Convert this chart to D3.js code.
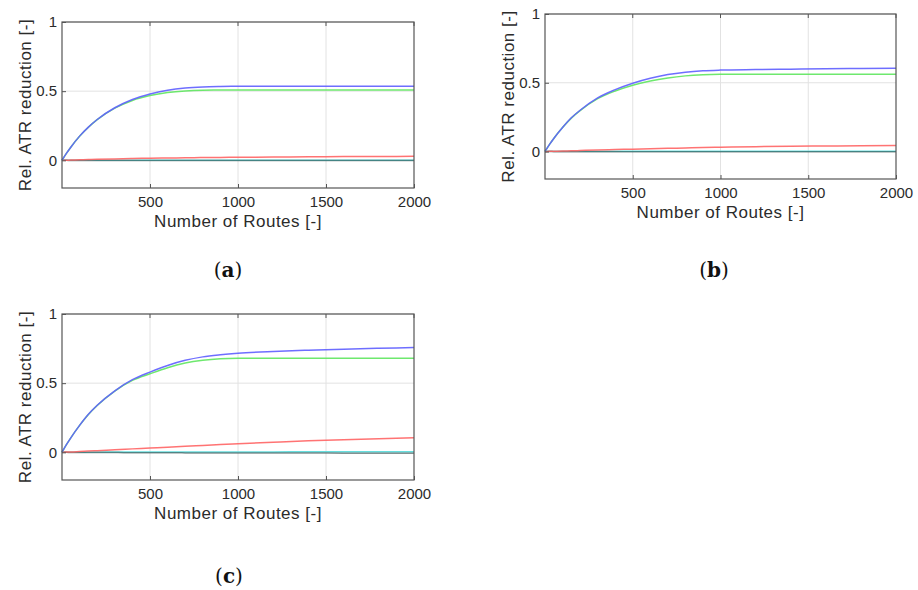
<!DOCTYPE html>
<html>
<head>
<meta charset="utf-8">
<script src="https://cdn.jsdelivr.net/npm/d3@7"></script>
<style>
  body { margin: 0; background: #fff; }
  svg { display: block; }
</style>
</head>
<body>
<svg id="chart" width="918" height="590"></svg>
<script>
// number of routes, shared by every series
var routes = [0, 25, 50, 100, 150, 200, 300, 400, 500, 600, 700, 800, 900, 1000, 1200, 1400, 1600, 1800, 2000];

// panel (a)
var blueA  = [0, 0.05, 0.095, 0.175, 0.24, 0.295, 0.38, 0.44, 0.48, 0.507, 0.523, 0.531, 0.534, 0.535, 0.535, 0.535, 0.536, 0.536, 0.536];
var greenA = [0, 0.05, 0.095, 0.174, 0.239, 0.294, 0.377, 0.433, 0.468, 0.49, 0.502, 0.507, 0.508, 0.508, 0.508, 0.508, 0.508, 0.508, 0.508];
var redA   = [0, 0.001, 0.002, 0.004, 0.006, 0.007, 0.01, 0.013, 0.015, 0.017, 0.018, 0.02, 0.021, 0.022, 0.024, 0.026, 0.027, 0.028, 0.029];
var cyanA  = [0, 0.001, 0.001, 0.001, 0.001, 0.001, 0.001, 0.001, 0.001, 0.001, 0.001, 0.001, 0.001, 0.001, 0.001, 0.001, 0.001, 0.001, 0.001];
var blackA = [0, 0, -0.001, -0.001, -0.001, -0.001, -0.001, -0.001, -0.001, -0.001, -0.001, -0.001, -0.001, -0.001, -0.001, -0.001, -0.001, -0.001, -0.001];

// panel (b)
var blueB  = [0, 0.05, 0.095, 0.175, 0.245, 0.3, 0.39, 0.45, 0.497, 0.533, 0.56, 0.577, 0.587, 0.592, 0.596, 0.599, 0.602, 0.604, 0.606];
var greenB = [0, 0.05, 0.095, 0.174, 0.243, 0.297, 0.384, 0.44, 0.482, 0.513, 0.535, 0.55, 0.558, 0.561, 0.562, 0.562, 0.562, 0.562, 0.562];
var redB   = [0, 0.001, 0.002, 0.004, 0.005, 0.007, 0.011, 0.014, 0.017, 0.02, 0.023, 0.026, 0.029, 0.031, 0.035, 0.038, 0.04, 0.042, 0.043];
var cyanB  = [0, 0.001, 0.001, 0.001, 0.001, 0.001, 0.001, 0.001, 0.001, 0.001, 0.001, 0.001, 0.001, 0.001, 0.001, 0.001, 0.001, 0.001, 0.001];
var blackB = [0, 0, -0.001, -0.001, -0.001, -0.001, -0.001, -0.002, -0.002, -0.002, -0.002, -0.002, -0.002, -0.002, -0.002, -0.002, -0.002, -0.002, -0.002];

// panel (c)
var blueC  = [0, 0.055, 0.105, 0.195, 0.275, 0.34, 0.445, 0.525, 0.58, 0.628, 0.665, 0.69, 0.705, 0.716, 0.729, 0.738, 0.746, 0.752, 0.758];
var greenC = [0, 0.055, 0.105, 0.195, 0.274, 0.339, 0.443, 0.52, 0.568, 0.612, 0.645, 0.665, 0.676, 0.68, 0.681, 0.681, 0.681, 0.681, 0.681];
var redC   = [0, 0.002, 0.003, 0.006, 0.009, 0.012, 0.019, 0.025, 0.031, 0.037, 0.044, 0.05, 0.056, 0.062, 0.073, 0.083, 0.091, 0.098, 0.105];
var cyanC  = [0, 0.001, 0.001, 0.001, 0.002, 0.002, 0.002, 0.002, 0.002, 0.003, 0.003, 0.003, 0.003, 0.003, 0.003, 0.004, 0.004, 0.004, 0.004];
var blackC = [0, 0, -0.001, -0.001, -0.002, -0.002, -0.002, -0.003, -0.003, -0.003, -0.004, -0.004, -0.004, -0.005, -0.005, -0.005, -0.006, -0.006, -0.006];

var xTicks = [500, 1000, 1500, 2000];
var yTicks = [0, 0.5, 1];
var yTickLabels = ["0", "0.5", "1"];
var panelLetters = ["a", "b", "c"];

// drawing order: cyan, black, red, green, blue
var seriesColors = ["#55dcdc", "#2e4a4a", "#ff6464", "#5ee65e", "#5e5eff"];
var seriesAlpha  = [0.9, 0.6, 0.9, 0.9, 0.9];

var panels = [
	{ letter: panelLetters[0], box: [62, 22, 414, 188],  cap: [228, 277], series: [cyanA, blackA, redA, greenA, blueA] },
	{ letter: panelLetters[1], box: [545, 14, 896, 179], cap: [714, 277], series: [cyanB, blackB, redB, greenB, blueB] },
	{ letter: panelLetters[2], box: [62, 314, 414, 480], cap: [229, 583], series: [cyanC, blackC, redC, greenC, blueC] }
];

var svg = d3.select("#chart");
var sansFont = "Liberation Sans, Arial, Helvetica, sans-serif";

function drawPanel(p) {

	var x = d3.scaleLinear().domain([0, 2000]).range([p.box[0], p.box[2]]),
		y = d3.scaleLinear().domain([-0.2, 1]).range([p.box[3], p.box[1]]);

	var g = svg.append("g");

	// grid
	g.selectAll(".vgrid").data(xTicks.slice(0, 3)).enter().append("line")
		.attr("x1", function(d){ return x(d); }).attr("x2", function(d){ return x(d); })
		.attr("y1", y(1)).attr("y2", y(-0.2))
		.attr("stroke", "#e2e2e2").attr("stroke-width", 1);
	g.selectAll(".hgrid").data(yTicks).enter().append("line")
		.attr("x1", x(0)).attr("x2", x(2000))
		.attr("y1", function(d){ return y(d); }).attr("y2", function(d){ return y(d); })
		.attr("stroke", "#e2e2e2").attr("stroke-width", 1);

	// curves
	var line = d3.line()
		.x(function(d, i){ return x(routes[i]); })
		.y(function(d){ return y(d); })
		.curve(d3.curveMonotoneX);

	p.series.forEach(function(vals, k){
		g.append("path")
			.attr("d", line(vals))
			.attr("fill", "none")
			.attr("stroke", seriesColors[k])
			.attr("stroke-opacity", seriesAlpha[k])
			.attr("stroke-width", 1.5);
	});

	// axes, MATLAB style ticks pointing inward
	var xAxis = d3.axisBottom(x).tickValues(xTicks).tickSizeInner(-4).tickSizeOuter(0).tickPadding(8)
		.tickFormat(d3.format("d"));
	var yAxis = d3.axisLeft(y).tickValues(yTicks).tickSizeInner(-4).tickSizeOuter(0).tickPadding(5)
		.tickFormat(function(d, i){ return yTickLabels[i]; });

	var gx = g.append("g").attr("transform", "translate(0," + y(-0.2) + ")").call(xAxis);
	var gy = g.append("g").attr("transform", "translate(" + x(0) + ",0)").call(yAxis);

	[gx, gy].forEach(function(a){
		a.attr("font-family", sansFont).attr("font-size", 15);
		a.select(".domain").remove();
		a.selectAll(".tick line").attr("stroke", "#555");
		a.selectAll(".tick text").attr("fill", "#2b2b2b");
	});

	// ticks on the top edge too
	g.selectAll(".ttick").data(xTicks).enter().append("line")
		.attr("x1", function(d){ return x(d); }).attr("x2", function(d){ return x(d); })
		.attr("y1", y(1)).attr("y2", y(1) + 4)
		.attr("stroke", "#555");

	// box
	g.append("rect")
		.attr("x", x(0)).attr("y", y(1))
		.attr("width", x(2000) - x(0)).attr("height", y(-0.2) - y(1))
		.attr("fill", "none").attr("stroke", "#555").attr("stroke-width", 1.2);

	// axis titles
	g.append("text")
		.attr("x", (x(0) + x(2000)) / 2).attr("y", y(-0.2) + 39)
		.attr("text-anchor", "middle")
		.attr("font-family", sansFont).attr("font-size", 17)
		.attr("letter-spacing", 0.5)
		.attr("fill", "#2b2b2b")
		.text("Number of Routes [-]");

	g.append("text")
		.attr("transform", "translate(" + (x(0) - 31) + "," + (y(1) + y(-0.2)) / 2 + ") rotate(-90)")
		.attr("text-anchor", "middle")
		.attr("font-family", sansFont).attr("font-size", 17)
		.attr("letter-spacing", 0.5)
		.attr("fill", "#2b2b2b")
		.text("Rel. ATR reduction [-]");

	// caption
	var cap = g.append("text")
		.attr("x", p.cap[0]).attr("y", p.cap[1])
		.attr("text-anchor", "middle")
		.attr("font-family", "DejaVu Serif, Liberation Serif, serif").attr("font-size", 20)
		.attr("fill", "#111");
	cap.append("tspan").text("(");
	cap.append("tspan").attr("font-weight", "bold").text(p.letter);
	cap.append("tspan").text(")");
}

panels.forEach(drawPanel);
</script>
</body>
</html>
